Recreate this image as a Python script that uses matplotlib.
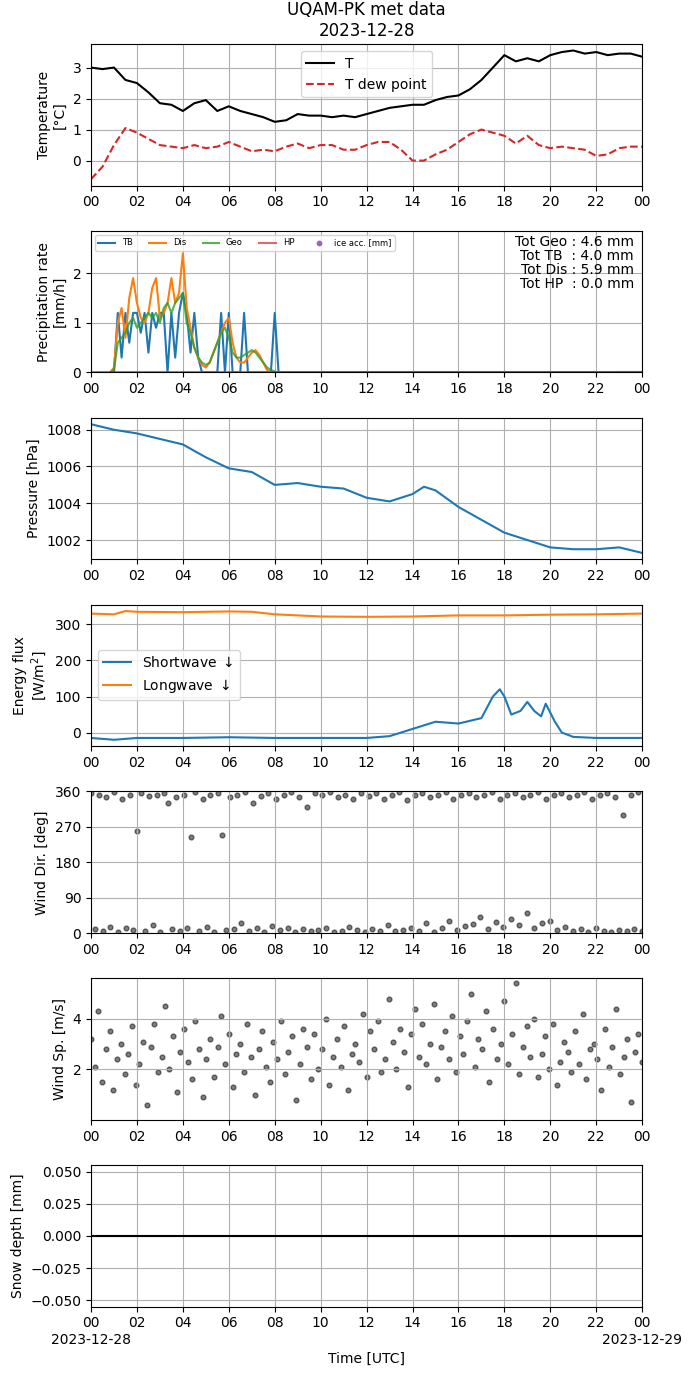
import matplotlib.pyplot as plt
import matplotlib.dates as mdates
import matplotlib.ticker as mticker
import numpy as np
from datetime import datetime, timedelta

day0 = datetime(2023, 12, 28)

# Temperature (every 30 min)
t_hours = np.arange(0, 24.01, 0.5)
temp = [3.0, 2.95, 3.0, 2.6, 2.5, 2.2, 1.85, 1.8, 1.6, 1.85, 1.95, 1.6, 1.75, 1.6, 1.5, 1.4,
        1.25, 1.3, 1.5, 1.45, 1.45, 1.4, 1.45, 1.4, 1.5, 1.6, 1.7, 1.75, 1.8, 1.8, 1.95, 2.05,
        2.1, 2.3, 2.6, 3.0, 3.4, 3.2, 3.3, 3.2, 3.4, 3.5, 3.55, 3.45, 3.5, 3.4, 3.45, 3.45, 3.35]
tdew = [-0.6, -0.2, 0.5, 1.05, 0.9, 0.7, 0.5, 0.45, 0.4, 0.5, 0.4, 0.45, 0.6, 0.45, 0.3, 0.35,
        0.3, 0.45, 0.55, 0.4, 0.5, 0.5, 0.35, 0.35, 0.5, 0.6, 0.6, 0.35, 0.0, 0.0, 0.2, 0.35,
        0.6, 0.85, 1.0, 0.9, 0.8, 0.55, 0.8, 0.5, 0.4, 0.45, 0.4, 0.35, 0.15, 0.2, 0.4, 0.45, 0.45]

# Precipitation (every 10 min, 0:50 to 8:10)
p_hours = np.arange(50, 491, 10) / 60
tb = [0, 0, 1.2, 0.3, 1.2, 0.6, 1.2, 1.2, 0.8, 1.2, 0.4, 1.2, 0.9, 1.2, 1.2, 0.0, 1.2, 0.3, 1.2,
      1.6, 1.2, 0.4, 1.2, 0.3, 0, 0, 0, 0, 0, 1.2, 0, 1.2, 0, 0, 0, 1.2, 0, 0, 0, 0, 0, 0, 0, 1.2, 0]
dis = [0, 0.1, 1.0, 1.3, 0.7, 1.5, 1.9, 1.4, 1.1, 1.0, 1.2, 1.7, 1.9, 1.1, 1.2, 1.4, 1.9, 1.4, 1.6,
       2.4, 1.3, 0.9, 0.5, 0.3, 0.15, 0.1, 0.2, 0.4, 0.6, 0.8, 1.0, 1.1, 0.6, 0.3, 0.2, 0.2, 0.3,
       0.4, 0.45, 0.35, 0.2, 0.05, 0, 0, 0]
geo = [0, 0.05, 0.6, 0.7, 0.8, 1.0, 1.1, 0.9, 1.0, 1.1, 1.2, 1.1, 1.2, 1.0, 1.3, 1.4, 1.2, 1.4, 1.5,
       1.6, 1.0, 0.8, 0.5, 0.3, 0.2, 0.15, 0.2, 0.4, 0.6, 0.8, 0.9, 0.7, 0.4, 0.3, 0.3, 0.35, 0.4,
       0.45, 0.4, 0.3, 0.2, 0.1, 0.05, 0.02, 0.0]

# Pressure
pr_hours = [0, 1, 2, 3, 4, 5, 6, 7, 8, 9, 10, 11, 12, 13, 14, 14.5, 15, 16, 17, 18, 19, 20, 21, 22, 23, 24]
pres = [1008.3, 1008.0, 1007.8, 1007.5, 1007.2, 1006.5, 1005.9, 1005.7, 1005.0, 1005.1, 1004.9,
        1004.8, 1004.3, 1004.1, 1004.5, 1004.9, 1004.7, 1003.8, 1003.1, 1002.4, 1002.0, 1001.6,
        1001.5, 1001.5, 1001.6, 1001.3]

# Radiation
sw_hours = [0, 1, 2, 4, 6, 8, 10, 12, 13, 14, 15, 16, 17, 17.5, 17.8, 18, 18.3, 18.7, 19, 19.3,
            19.6, 19.8, 20.2, 20.5, 21, 22, 24]
sw = [-15, -20, -15, -15, -13, -15, -15, -15, -10, 10, 30, 25, 40, 100, 120, 100, 50, 60, 85, 60,
      45, 80, 30, 0, -12, -15, -15]
lw_hours = [0, 1, 1.5, 2, 4, 6, 7, 8, 10, 12, 14, 16, 18, 20, 22, 24]
lw = [330, 328, 337, 335, 334, 336, 335, 328, 322, 321, 322, 325, 325, 327, 328, 330]

# Wind (roughly every 10 min)
wdir = [355, 10, 350, 5, 345, 15, 358, 2, 340, 12, 352, 8, 260, 355, 5, 348, 20, 350, 3, 357,
        330, 10, 345, 6, 352, 12, 245, 358, 4, 340, 15, 350, 2, 355, 250, 8, 345, 10, 352, 25,
        358, 5, 330, 12, 348, 3, 355, 18, 340, 7, 352, 14, 358, 2, 345, 10, 320, 5, 355, 8,
        350, 12, 358, 3, 345, 6, 352, 15, 340, 8, 355, 2, 348, 11, 357, 5, 342, 20, 352, 4,
        358, 9, 338, 14, 350, 6, 355, 25, 345, 3, 352, 12, 358, 30, 340, 7, 350, 18, 355, 22,
        345, 40, 352, 10, 358, 28, 342, 15, 350, 35, 355, 20, 345, 50, 352, 12, 358, 25, 340,
        30, 350, 8, 355, 15, 345, 5, 352, 10, 358, 3, 340, 12, 350, 6, 355, 2, 345, 9, 300,
        5, 352, 11, 358, 4]
wspd = [3.2, 2.1, 4.3, 1.5, 2.8, 3.5, 1.2, 2.4, 3.0, 1.8, 2.6, 3.7, 1.4, 2.2, 3.1, 0.6, 2.9, 3.8,
        1.9, 2.5, 4.5, 2.0, 3.3, 1.1, 2.7, 3.6, 2.3, 1.6, 3.9, 2.8, 0.9, 2.4, 3.2, 1.7, 2.9, 4.1,
        2.2, 3.4, 1.3, 2.6, 3.0, 1.9, 3.8, 2.5, 1.0, 2.8, 3.5, 2.1, 1.5, 3.1, 2.4, 3.9, 1.8, 2.7,
        3.3, 0.8, 2.2, 3.6, 2.9, 1.6, 3.4, 2.0, 2.8, 4.0, 1.4, 2.5, 3.2, 2.1, 3.7, 1.2, 2.6, 3.0,
        2.3, 4.2, 1.7, 3.5, 2.8, 3.9, 1.9, 2.4, 4.8, 3.1, 2.0, 3.6, 2.7, 1.3, 3.4, 4.4, 2.5, 3.8,
        2.2, 3.0, 4.6, 1.6, 2.9, 3.5, 2.4, 4.1, 1.9, 3.3, 2.6, 3.9, 5.0, 2.1, 3.2, 2.8, 4.3, 1.5,
        3.6, 2.4, 3.0, 4.7, 2.2, 3.4, 5.4, 1.8, 2.9, 3.7, 2.5, 4.0, 1.7, 2.6, 3.3, 2.0, 3.8, 1.4,
        2.3, 3.1, 2.7, 1.9, 3.5, 2.2, 4.2, 1.6, 2.8, 3.0, 2.4, 1.2, 3.6, 2.1, 2.9, 4.4, 1.8, 2.5,
        3.2, 0.7, 2.7, 3.4, 2.3]
wdir_hours = np.linspace(0, 24, len(wdir))
wspd_hours = np.linspace(0, 24, len(wspd))

snow_hours = [0, 24]
snow = [0.0, 0.0]


def to_dt(hours):
    return [day0 + timedelta(hours=float(h)) for h in hours]


fig, axes = plt.subplots(7, 1, figsize=(6.92, 13.77), dpi=100)
fig.subplots_adjust(left=0.1315, right=0.928, top=0.968, bottom=0.051, hspace=0.32)

ax = axes[0]
ax.plot(to_dt(t_hours), temp, color='k', label='T')
ax.plot(to_dt(t_hours), tdew, color='tab:red', ls='--', label='T dew point')
ax.set_ylabel('Temperature\n[°C]')
ax.legend(loc='upper center')
ax.set_title('UQAM-PK met data\n2023-12-28')

ax = axes[1]
ph = list(p_hours) + [24]
ax.plot(to_dt(ph), tb + [0], label='TB')
ax.plot(to_dt(ph), dis + [0], label='Dis')
ax.plot(to_dt(ph), geo + [0.01], label='Geo', alpha=0.8)
ax.plot(to_dt([0, 24]), [0, 0], label='HP', color='tab:red', alpha=0.7)
ax.scatter([], [], s=10, color='tab:purple', label='ice acc. [mm]')
ax.set_ylim(0, 2.85)
ax.set_ylabel('Precipitation rate\n[mm/h]')
ax.legend(loc='upper left', ncol=5, fontsize=6)
ax.text(0.985, 0.97, 'Tot Geo : 4.6 mm\nTot TB  : 4.0 mm\nTot Dis : 5.9 mm\nTot HP  : 0.0 mm',
        transform=ax.transAxes, ha='right', va='top', fontsize=10, linespacing=1.0)

ax = axes[2]
ax.plot(to_dt(pr_hours), pres)
ax.set_ylabel('Pressure [hPa]')

ax = axes[3]
ax.plot(to_dt(sw_hours), sw, label='Shortwave $\\downarrow$')
ax.plot(to_dt(lw_hours), lw, label='Longwave $\\downarrow$')
ax.set_ylabel('Energy flux\n[W/m$^2$]')
ax.legend(loc='center left')

ax = axes[4]
ax.scatter(to_dt(wdir_hours), wdir, s=12, color='k', alpha=0.5)
ax.set_ylim(0, 360)
ax.set_yticks([0, 90, 180, 270, 360])
ax.set_ylabel('Wind Dir. [deg]')

ax = axes[5]
ax.scatter(to_dt(wspd_hours), wspd, s=12, color='k', alpha=0.5)
ax.set_ylim(0, 5.6)
ax.set_yticks([2, 4])
ax.set_ylabel('Wind Sp. [m/s]')

ax = axes[6]
ax.plot(to_dt(snow_hours), snow, color='k')
ax.set_ylim(-0.055, 0.055)
ax.set_ylabel('Snow depth [mm]')
ax.set_xlabel('Time [UTC]')

for ax in axes:
    ax.set_xlim(day0, day0 + timedelta(days=1))
    ax.xaxis.set_major_locator(mdates.HourLocator(interval=2))
    ax.xaxis.set_major_formatter(mdates.DateFormatter('%H'))
    ax.grid(True)


def bottom_fmt(x, pos):
    d = mdates.num2date(x)
    if d.hour == 0:
        return d.strftime('%H\n%Y-%m-%d')
    return d.strftime('%H')


axes[6].xaxis.set_major_formatter(mticker.FuncFormatter(bottom_fmt))

fig.savefig('out.png')
